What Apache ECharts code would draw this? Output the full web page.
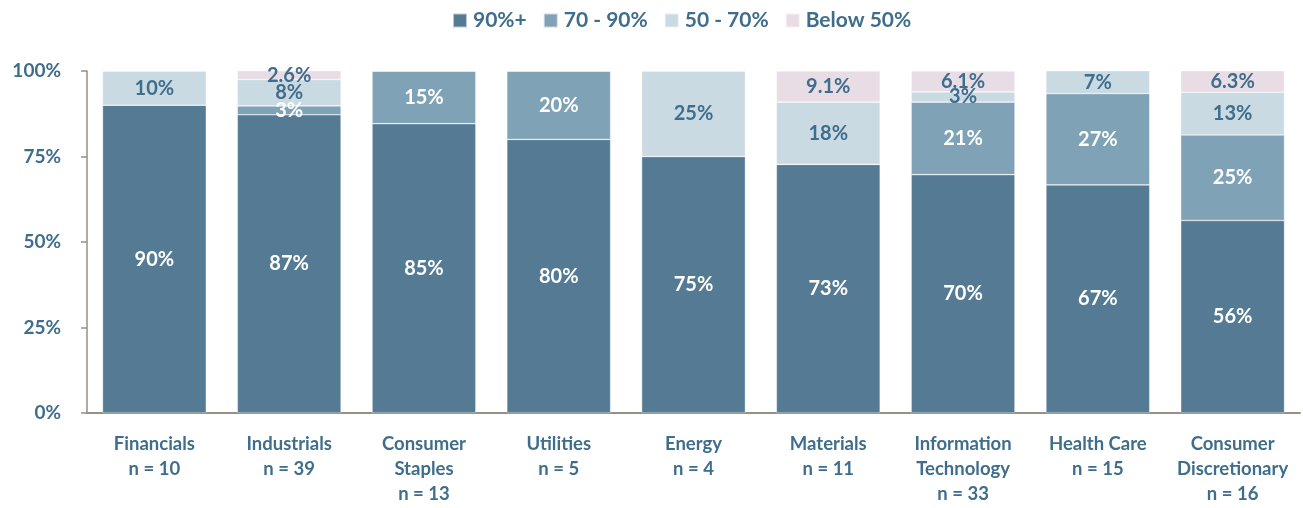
<!DOCTYPE html>
<html><head><meta charset="utf-8">
<script src="https://cdn.jsdelivr.net/npm/echarts@6/dist/echarts.min.js"></script>
<style>html,body{margin:0;padding:0;background:#fff}#c{width:1303px;height:508px}</style>
</head><body><div id="c"></div>
<script>
const categories = ['Financials\nn = 10','Industrials\nn = 39','Consumer\nStaples\nn = 13','Utilities\nn = 5','Energy\nn = 4','Materials\nn = 11','Information\nTechnology\nn = 33','Health Care\nn = 15','Consumer\nDiscretionary\nn = 16'];
const s90plus = [90, 87.2, 84.6, 80, 75, 72.7, 69.7, 66.7, 56.3];
const s70to90 = [0, 2.6, 15.4, 20, 0, 0, 21.2, 26.7, 25];
const s50to70 = [10, 7.7, 0, 0, 25, 18.2, 3.0, 6.7, 12.5];
const sBelow50 = [0, 2.6, 0, 0, 0, 9.1, 6.1, 0, 6.3];
const yTicks = [0, 25, 50, 75, 100];

const FONT = 'Lato';
const W = 'bold';
const TXT = '#3f6d8c';
const AX = '#9a8f84';
function mk(name, data, color, labelColor, decimals) {
  return {
    name, type: 'bar', stack: 'a', data, barCategoryGap: '23%',
    itemStyle: { color, borderColor: 'rgba(255,255,255,0.6)', borderWidth: 0.6 },
    label: {
      show: true, position: 'inside', color: labelColor, fontFamily: FONT, fontWeight: W, fontSize: 20,
      formatter: p => p.value > 0 ? (decimals ? p.value.toFixed(1) : Math.round(p.value)) + '%' : ''
    },
    emphasis: { disabled: true }
  };
}
const chart = echarts.init(document.getElementById('c'));
chart.setOption({
  animation: false,
  legend: {
    top: 5, left: 447, itemWidth: 14, itemHeight: 14, itemGap: 16,
    icon: 'rect',
    textStyle: { color: TXT, fontFamily: FONT, fontWeight: W, fontSize: 21, padding: [0,0,0,1] }
  },
  grid: { left: 87, right: 3, top: 71, bottom: 95 },
  xAxis: {
    type: 'category', data: categories,
    axisLine: { lineStyle: { color: AX, width: 2 } },
    axisTick: { show: false },
    axisLabel: { color: TXT, fontFamily: FONT, fontWeight: W, fontSize: 18.5, lineHeight: 25, margin: 19, interval: 0 }
  },
  yAxis: {
    type: 'value', min: 0, max: 100, interval: 25,
    axisLine: { show: true, lineStyle: { color: AX, width: 1.5 } },
    axisTick: { show: true, length: 6, lineStyle: { color: AX, width: 1.5 } },
    splitLine: { show: false },
    axisLabel: { color: TXT, fontFamily: FONT, fontWeight: W, fontSize: 19, margin: 26,
      formatter: v => yTicks.includes(v) ? v + '%' : '' }
  },
  series: [
    mk('90%+', s90plus, '#557b94', '#ffffff', false),
    mk('70 - 90%', s70to90, '#7fa2b6', '#ffffff', false),
    mk('50 - 70%', s50to70, '#cadae2', TXT, false),
    mk('Below 50%', sBelow50, '#e8dde5', TXT, true)
  ]
});
</script></body></html>
